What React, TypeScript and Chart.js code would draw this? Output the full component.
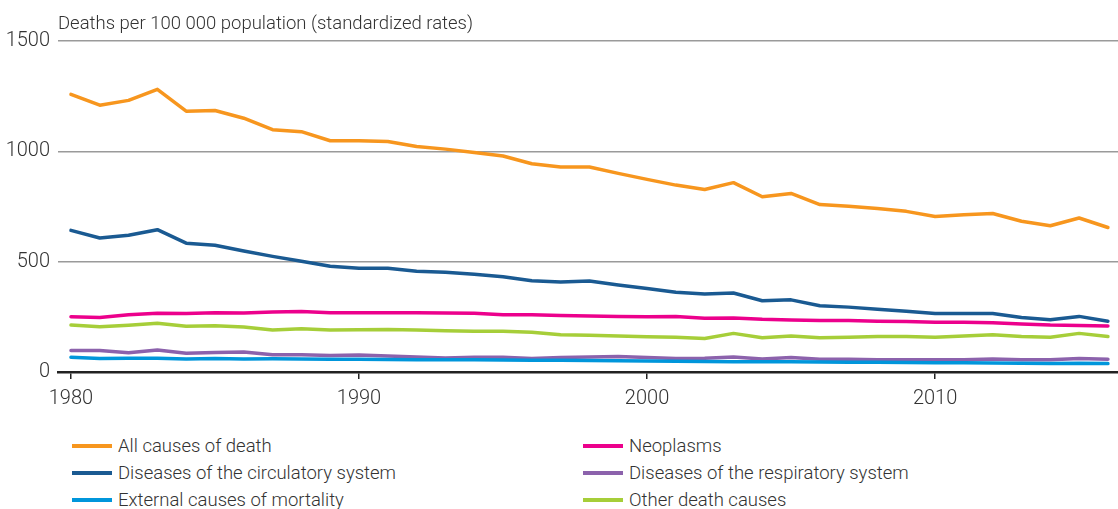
import React, { useEffect, useRef } from "react";
import { Chart, registerables } from "chart.js";

Chart.register(...registerables);

const years: number[] = Array.from({ length: 37 }, (_, i) => 1980 + i);

const allCauses = [1258, 1209, 1231, 1281, 1182, 1185, 1150, 1098, 1089, 1048, 1048, 1045, 1022, 1010, 995, 979, 944, 929, 929, 900, 873, 847, 827, 858, 794, 809, 759, 751, 741, 728, 705, 713, 718, 683, 663, 698, 655];
const circulatory = [642, 607, 620, 645, 584, 574, 548, 524, 502, 479, 470, 470, 457, 452, 443, 432, 414, 408, 412, 394, 378, 361, 353, 358, 323, 327, 300, 294, 284, 275, 265, 265, 265, 247, 237, 252, 230];
const neoplasms = [250, 247, 259, 266, 265, 269, 267, 272, 274, 269, 269, 269, 269, 267, 266, 259, 259, 256, 254, 251, 250, 251, 244, 245, 239, 236, 233, 233, 230, 229, 225, 225, 223, 218, 213, 211, 209];
const otherCauses = [213, 205, 212, 221, 207, 210, 204, 190, 196, 190, 192, 193, 190, 187, 185, 185, 180, 169, 166, 163, 160, 157, 152, 175, 155, 163, 155, 158, 161, 161, 158, 163, 169, 161, 157, 175, 161];
const respiratory = [97, 97, 87, 100, 85, 88, 91, 78, 78, 75, 77, 72, 68, 64, 67, 67, 61, 66, 68, 70, 66, 61, 62, 68, 59, 66, 58, 58, 56, 56, 56, 56, 59, 56, 56, 61, 58];
const external = [67, 61, 62, 62, 59, 61, 59, 60, 59, 58, 58, 57, 56, 55, 55, 54, 53, 53, 52, 51, 50, 49, 48, 47, 47, 46, 45, 44, 44, 43, 42, 42, 41, 40, 39, 40, 38];

const xTicks = [1980, 1990, 2000, 2010];
const yTicks = [0, 500, 1000, 1500];

const seriesNames = {
  all: "All causes of death",
  neo: "Neoplasms",
  circ: "Diseases of the circulatory system",
  resp: "Diseases of the respiratory system",
  ext: "External causes of mortality",
  other: "Other death causes",
};

const COLORS = {
  all: "#F7961E",
  neo: "#EC008C",
  circ: "#1A5A92",
  resp: "#8C62AC",
  ext: "#0096DB",
  other: "#A6CE39",
};

const axisTitle = "Deaths per 100 000 population (standardized rates)";
const FONT = "Roboto";
const TEXT = "#333333";

const legendItems = [
  { label: seriesNames.all, color: COLORS.all },
  { label: seriesNames.neo, color: COLORS.neo },
  { label: seriesNames.circ, color: COLORS.circ },
  { label: seriesNames.resp, color: COLORS.resp },
  { label: seriesNames.ext, color: COLORS.ext },
  { label: seriesNames.other, color: COLORS.other },
];

export default function App() {
  const ref = useRef<HTMLCanvasElement | null>(null);

  useEffect(() => {
    if (!ref.current) return;
    const mk = (label: string, data: number[], color: string) => ({
      label,
      data: data.map((v, i) => ({ x: years[i], y: v })),
      borderColor: color,
      backgroundColor: color,
      borderWidth: 3.5,
      pointRadius: 0,
      tension: 0,
      borderCapStyle: "round" as const,
      borderJoinStyle: "round" as const,
    });
    const titlePlugin = {
      id: "axisTitle",
      afterDraw(chart: any) {
        const { ctx, chartArea } = chart;
        ctx.save();
        ctx.font = `300 18.5px ${FONT}`;
        ctx.fillStyle = TEXT;
        ctx.textAlign = "left";
        ctx.textBaseline = "middle";
        ctx.fillText(axisTitle, chartArea.left, chartArea.top - 17);
        ctx.restore();
      },
    };
    const chart = new Chart(ref.current, {
      type: "line",
      data: {
        datasets: [
          mk(seriesNames.all, allCauses, COLORS.all),
          mk(seriesNames.circ, circulatory, COLORS.circ),
          mk(seriesNames.neo, neoplasms, COLORS.neo),
          mk(seriesNames.other, otherCauses, COLORS.other),
          mk(seriesNames.ext, external, COLORS.ext),
          mk(seriesNames.resp, respiratory, COLORS.resp),
        ],
      },
      options: {
        animation: false,
        responsive: true,
        maintainAspectRatio: false,
        layout: { padding: { top: 41, right: 0, bottom: 0, left: 0 } },
        plugins: {
          legend: { display: false },
          tooltip: { enabled: false },
        },
        scales: {
          x: {
            type: "linear",
            min: 1979.55,
            max: 2016.35,
            afterBuildTicks: (scale: any) => {
              scale.ticks = xTicks.map((v) => ({ value: v }));
            },
            ticks: {
              font: { family: FONT, size: 20, weight: "300" as any },
              color: TEXT,
              padding: 8,
              maxRotation: 0,
              callback: (v: any) => String(v),
            },
            grid: {
              drawOnChartArea: false,
              drawTicks: true,
              tickLength: 7,
              color: "#222222",
              lineWidth: 1.5,
            },
            border: { display: true, color: "#222222", width: 2.5 },
          },
          y: {
            min: 0,
            max: 1500,
            afterBuildTicks: (scale: any) => {
              scale.ticks = yTicks.map((v) => ({ value: v }));
            },
            afterFit: (scale: any) => {
              scale.width = 58;
            },
            ticks: {
              font: { family: FONT, size: 20, weight: "300" as any },
              color: TEXT,
              padding: 8,
              callback: (v: any) => String(v),
            },
            grid: {
              drawTicks: false,
              color: (c: any) => (c.tick && c.tick.value === 0 ? "rgba(0,0,0,0)" : "#9a9a9a"),
              lineWidth: 1.5,
            },
            border: { display: false },
          },
        },
      },
      plugins: [titlePlugin],
    });
    return () => chart.destroy();
  }, []);

  return (
    <div style={{ position: "absolute", left: 0, top: 0, width: 1118, height: 509, fontFamily: FONT, background: "#fff" }}>
      <div style={{ position: "relative", width: 1118, height: 419 }}>
        <canvas ref={ref} />
      </div>
      <div
        style={{
          display: "grid",
          gridTemplateColumns: "511px 500px",
          rowGap: 0,
          paddingLeft: 72,
          marginTop: 13,
        }}
      >
        {legendItems.map((it) => (
          <div key={it.label} style={{ display: "flex", alignItems: "center", height: 27 }}>
            <span style={{ display: "inline-block", width: 40, height: 4, background: it.color, marginRight: 6 }} />
            <span style={{ fontSize: 18.5, fontWeight: 300, color: TEXT, whiteSpace: "nowrap" }}>{it.label}</span>
          </div>
        ))}
      </div>
    </div>
  );
}
